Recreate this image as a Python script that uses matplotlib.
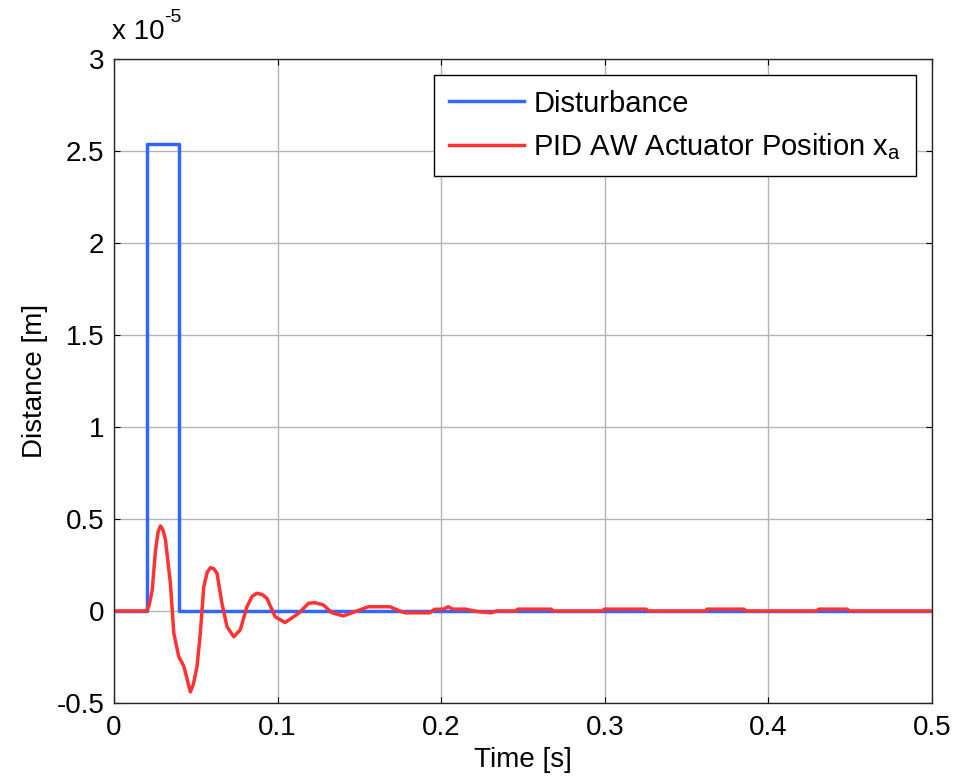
import matplotlib
matplotlib.use("Agg")
import matplotlib.pyplot as plt

plt.rcParams['font.family'] = ['Liberation Sans', 'DejaVu Sans']
plt.rcParams['mathtext.fontset'] = 'custom'
plt.rcParams['mathtext.rm'] = 'Liberation Sans'
plt.rcParams['axes.unicode_minus'] = False

# values in units of 1e-5 m
t_dist = [0.0, 0.02, 0.02, 0.04, 0.04, 0.5]
v_dist = [0.0, 0.0, 2.54, 2.54, 0.0, 0.0]

t_pos = [0.0, 0.020, 0.0215, 0.0234, 0.0254, 0.0270, 0.0284, 0.0300, 0.0315, 0.0345,
         0.0366, 0.0396, 0.0427, 0.0450, 0.0467, 0.0485, 0.0508, 0.0528, 0.0549, 0.0570,
         0.0589, 0.0610, 0.0630, 0.0660, 0.0691, 0.0732, 0.0772, 0.0813, 0.0845, 0.0874,
         0.0905, 0.0935, 0.0985, 0.1046, 0.1128, 0.1190, 0.1229, 0.1280, 0.1331, 0.1402,
         0.1473, 0.1555, 0.1687, 0.1758, 0.1780, 0.1930, 0.1960, 0.2015, 0.2043, 0.2070,
         0.2150, 0.2220, 0.2307, 0.2340, 0.2455, 0.2469, 0.2672, 0.2685, 0.2985, 0.2998,
         0.3252, 0.3265, 0.3615, 0.3627, 0.3851, 0.3865, 0.4295, 0.4309, 0.4482, 0.4495,
         0.5]
v_pos = [0, 0, 0.03, 0.114, 0.33, 0.43, 0.462, 0.44, 0.386, 0.15,
         -0.121, -0.248, -0.30, -0.38, -0.44, -0.40, -0.30, -0.121, 0.132, 0.21,
         0.235, 0.23, 0.205, 0.042, -0.085, -0.14, -0.103, 0.023, 0.08, 0.096,
         0.09, 0.069, -0.031, -0.063, -0.013, 0.042, 0.045, 0.033, -0.009, -0.027,
         -0.004, 0.023, 0.023, -0.004, -0.01, -0.01, 0.009, 0.01, 0.023, 0.01,
         0.01, -0.003, -0.01, 0, 0, 0.01, 0.01, 0, 0, 0.01,
         0.01, 0, 0, 0.01, 0.01, 0, 0, 0.01, 0.01, 0,
         0]

xticks = [0, 0.1, 0.2, 0.3, 0.4, 0.5]
xlabels = ['0', '0.1', '0.2', '0.3', '0.4', '0.5']
yticks = [-0.5, 0, 0.5, 1, 1.5, 2, 2.5, 3]
ylabels = ['-0.5', '0', '0.5', '1', '1.5', '2', '2.5', '3']

fig = plt.figure(figsize=(9.56, 7.83), dpi=100)
ax = fig.add_axes([0.1192, 0.1022, 0.8556, 0.8225])

ax.plot(t_dist, v_dist, color='#3366ff', linewidth=2.5, label='Disturbance')
ax.plot(t_pos, v_pos, color='#ff3333', linewidth=2.5,
        label='PID AW Actuator Position x$_\\mathrm{a}$')

ax.set_xlim(0, 0.5)
ax.set_ylim(-0.5, 3)
ax.set_xticks(xticks)
ax.set_xticklabels(xlabels)
ax.set_yticks(yticks)
ax.set_yticklabels(ylabels)
ax.grid(True, color='#b4b4b4', linewidth=1.0)
ax.set_axisbelow(True)
ax.tick_params(direction='in', top=True, right=True, labelsize=20, length=4)
ax.tick_params(axis='x', pad=9)
ax.tick_params(axis='y', pad=7)
for s in ax.spines.values():
    s.set_linewidth(1.0)
    s.set_color('#262626')

ax.set_xlabel('Time [s]', fontsize=20, labelpad=4)
ax.set_ylabel('Distance [m]', fontsize=20, labelpad=6)

fig.text(0.117, 0.942, 'x 10', fontsize=20, ha='left', va='bottom')
fig.text(0.172, 0.967, '-5', fontsize=14, ha='left', va='bottom')

leg = ax.legend(loc='upper right', fontsize=21, fancybox=False, framealpha=1,
                edgecolor='black', handlelength=2.6, handletextpad=0.3,
                borderaxespad=0.55, labelspacing=0.45, borderpad=0.5)
leg.get_frame().set_linewidth(1.0)

fig.savefig('out.png', dpi=100)
